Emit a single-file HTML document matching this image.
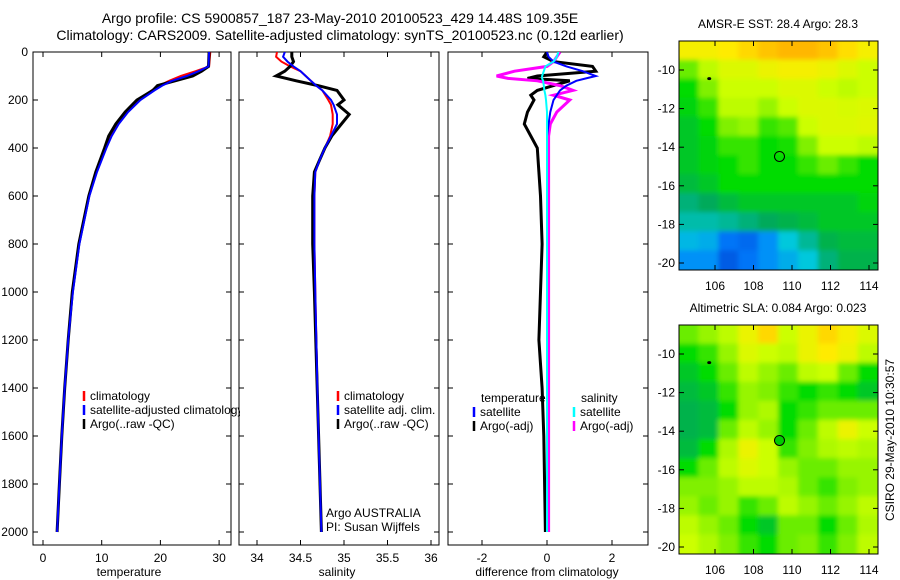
<!DOCTYPE html>
<html><head><meta charset="utf-8">
<style>
body{margin:0;background:#fff;}
svg{display:block;font-family:"Liberation Sans",sans-serif;}
</style></head>
<body>
<svg id="fig" width="900" height="580" xmlns="http://www.w3.org/2000/svg">
<rect width="900" height="580" fill="#fff"/>
<text x="340" y="23" font-size="14" text-anchor="middle">Argo profile: CS 5900857_187 23-May-2010 20100523_429 14.48S 109.35E</text>
<text x="340" y="40" font-size="14" text-anchor="middle">Climatology: CARS2009. Satellite-adjusted climatology: synTS_20100523.nc (0.12d earlier)</text>
<defs>
<clipPath id="c1"><rect x="33" y="52" width="198" height="493"/></clipPath>
<clipPath id="c2"><rect x="239" y="52" width="200" height="493"/></clipPath>
<clipPath id="c3"><rect x="448" y="52" width="200" height="493"/></clipPath>
<clipPath id="cm1"><rect x="679" y="41" width="199" height="229"/></clipPath>
<clipPath id="cm2"><rect x="679" y="325" width="199" height="229"/></clipPath>
<clipPath id="cleg"><rect x="33" y="380" width="207" height="60"/></clipPath>
<filter id="blur"><feGaussianBlur stdDeviation="2.5"/></filter>
</defs>
<g id="plots"></g>
<text transform="translate(894,440) rotate(-90)" font-size="12" text-anchor="middle">CSIRO 29-May-2010 10:30:57</text>
</svg>
<script>
// ---- data ----
const tDepth=[0,60,80,100,120,140,160,200,250,300,350,400,500,600,800,1000,1200,1400,1600,1800,2000];
const tClim=[28.5,28.3,26,23.5,21.5,19.8,18.5,16.3,14.3,12.7,11.5,10.6,9,7.8,6.1,5.0,4.3,3.7,3.2,2.8,2.4];
const tSat=[28.3,28.2,26.5,24.5,22,20.3,19,16.6,14.5,12.9,11.7,10.8,9.2,7.9,6.2,5.1,4.3,3.7,3.2,2.8,2.4];
const tArgo=[28.3,28.2,27,25.5,22.5,19.5,18.7,16,14,12.4,11.2,10.5,9,7.8,6.1,5.0,4.3,3.7,3.2,2.8,2.4];
const sDepth=[0,20,40,60,80,100,120,140,160,200,220,260,300,350,400,450,500,600,800,1000,1500,2000];
const sClim=[34.23,34.22,34.28,34.38,34.5,34.56,34.62,34.68,34.75,34.82,34.85,34.87,34.87,34.84,34.78,34.72,34.67,34.66,34.66,34.67,34.7,34.74];
const sSat=[34.32,34.3,34.35,34.42,34.5,34.56,34.62,34.68,34.75,34.85,34.88,34.92,34.92,34.85,34.78,34.72,34.67,34.66,34.66,34.67,34.7,34.74];
const sArgo=[34.40,34.40,34.42,34.38,34.32,34.22,34.45,34.70,34.92,35.00,34.93,35.06,34.97,34.86,34.78,34.72,34.66,34.64,34.64,34.66,34.70,34.74];
const dDepth=[0,20,40,60,80,100,110,120,140,160,180,200,250,300,350,400,500,600,800,1000,1200,1400,1600,2000];
const dSatT=[0,0.05,0.2,0.6,1.1,1.5,1.2,0.9,0.6,0.4,0.3,0.2,0.1,0.05,0,0,0,0,0,0,0,0,0,0];
const dArgoT=[0,-0.1,0.2,1.4,1.5,-0.3,-0.6,0.7,0.2,-0.3,-0.5,-0.4,-0.6,-0.7,-0.5,-0.3,-0.25,-0.2,-0.15,-0.2,-0.25,-0.15,-0.1,-0.05];
const dSatS=[0.35,0.3,0.2,-0.05,-0.1,-0.15,-0.15,-0.12,-0.1,-0.08,-0.05,-0.03,0,0,0,0,0,0,0,0,0,0,0,0];
const dArgoS=[0.4,0.3,0.2,0.0,-1.0,-1.55,-1.2,-0.3,0.4,0.8,0.2,0.7,0.3,0.1,0.05,0.05,0.05,0.05,0.05,0.05,0.05,0.05,0.05,0.05];
const depthTicks=[0,200,400,600,800,1000,1200,1400,1600,1800,2000];
const tTicks=[0,10,20,30];
const sTicks=[34,34.5,35,35.5,36];
const dTicks=[-2,0,2];
const lonTicks=[106,108,110,112,114];
const latTicks=[-10,-12,-14,-16,-18,-20];
const sstGrid=[
[0.8,0.8,0.82,0.85,0.88,0.9,0.9,0.88,0.84,0.8],
[0.6,0.7,0.75,0.75,0.78,0.8,0.8,0.78,0.75,0.72],
[0.5,0.62,0.72,0.72,0.72,0.75,0.75,0.72,0.7,0.72],
[0.48,0.55,0.7,0.7,0.65,0.72,0.75,0.75,0.74,0.75],
[0.45,0.5,0.62,0.65,0.55,0.58,0.72,0.75,0.75,0.76],
[0.45,0.48,0.55,0.55,0.5,0.52,0.62,0.72,0.72,0.7],
[0.45,0.48,0.5,0.55,0.5,0.5,0.55,0.6,0.55,0.5],
[0.42,0.45,0.5,0.5,0.5,0.5,0.5,0.5,0.5,0.5],
[0.35,0.38,0.42,0.45,0.45,0.45,0.45,0.45,0.45,0.48],
[0.3,0.3,0.32,0.35,0.38,0.4,0.42,0.45,0.45,0.45],
[0.22,0.2,0.1,0.08,0.15,0.25,0.32,0.4,0.42,0.42],
[0.15,0.15,0.05,0.1,0.15,0.2,0.25,0.35,0.4,0.4]];
const slaGrid=[
[0.6,0.65,0.7,0.78,0.85,0.72,0.78,0.85,0.8,0.75],
[0.5,0.55,0.65,0.75,0.72,0.7,0.78,0.82,0.78,0.7],
[0.45,0.5,0.6,0.7,0.65,0.6,0.7,0.72,0.6,0.5],
[0.42,0.45,0.55,0.65,0.62,0.55,0.5,0.55,0.5,0.45],
[0.4,0.42,0.5,0.65,0.68,0.5,0.55,0.6,0.6,0.6],
[0.4,0.42,0.6,0.7,0.65,0.5,0.6,0.7,0.78,0.72],
[0.42,0.5,0.68,0.78,0.72,0.55,0.62,0.68,0.7,0.68],
[0.5,0.6,0.7,0.75,0.72,0.65,0.6,0.6,0.65,0.65],
[0.62,0.62,0.65,0.7,0.7,0.68,0.6,0.55,0.62,0.65],
[0.65,0.6,0.65,0.55,0.6,0.7,0.65,0.6,0.65,0.7],
[0.7,0.65,0.6,0.5,0.45,0.6,0.6,0.5,0.6,0.68],
[0.72,0.68,0.62,0.55,0.5,0.6,0.62,0.55,0.62,0.7]];
const floatLon=109.35, floatLat=-14.48;

// ---- helpers ----
const NS="http://www.w3.org/2000/svg";
const root=document.getElementById('plots');
function mk(tag,attrs,parent){const e=document.createElementNS(NS,tag);for(const k in attrs)e.setAttribute(k,attrs[k]);(parent||root).appendChild(e);return e;}
const yD=d=>52+d*0.24;
const xT=v=>43+v*5.87;
const xS=v=>257+(v-34)*87;
const xDf=v=>547+v*32.5;

function line(xs,ds,xf,color,w,clip,name,dash){
  const pts=xs.map((v,i)=>xf(v).toFixed(1)+','+yD(ds[i]).toFixed(1)).join(' ');
  const p=mk('polyline',{points:pts,fill:'none',stroke:color,'stroke-width':w,'clip-path':'url(#'+clip+')'});
  if(dash)p.setAttribute('stroke-dasharray',dash);
  
  
}
function frame(x,y,w,h,name){
  const r=mk('rect',{x:x,y:y,width:w,height:h,fill:'none',stroke:'#000','stroke-width':1});
  
  
}
function txt(s,x,y,size,anchor,name){
  const t=mk('text',{x:x,y:y,'font-size':size,'text-anchor':anchor||'start'});
  t.textContent=s;
  
  
  return t;
}
function xticks(ticks,xf,top,bot,labelY,name){
  ticks.forEach(v=>{const x=xf(v);
    mk('line',{x1:x,y1:bot,x2:x,y2:bot-5,stroke:'#000'});
    mk('line',{x1:x,y1:top,x2:x,y2:top+5,stroke:'#000'});
    txt(String(v),x,labelY,12,'middle',name);});
}
function yticks(x1,x2){
  depthTicks.forEach(d=>{const y=yD(d);
    mk('line',{x1:x1,y1:y,x2:x1+5,y2:y,stroke:'#000'});
    mk('line',{x1:x2,y1:y,x2:x2-5,y2:y,stroke:'#000'});});
}
function legend(items,x,y0,clip){
  const g=mk('g',clip?{'clip-path':'url(#'+clip+')'}:{});
  items.forEach((it,i)=>{const y=y0+i*14;
    mk('line',{x1:x,y1:y-9,x2:x,y2:y+1,stroke:it[1],'stroke-width':2.5},g);
    const t=mk('text',{x:x+6,y:y,'font-size':12},g);t.textContent=it[0];
    
    });
}

// ---- panel 1: temperature ----
frame(33,52,198,493,'temperature-axes');
yticks(33,231);
depthTicks.forEach(d=>txt(String(d),28,yD(d)+4,12,'end','depth-tick-label'));
xticks(tTicks,xT,52,545,562,'temperature-tick-label');
txt('temperature',129,576,12,'middle','temperature-x-axis-title');
line(tClim,tDepth,xT,'#f00',2,'c1','temperature-climatology-line');
line(tArgo,tDepth,xT,'#000',3,'c1','temperature-argo-line');
line(tSat,tDepth,xT,'#00f',2,'c1','temperature-satellite-line');
legend([['climatology','#f00'],['satellite-adjusted climatology','#00f'],['Argo(..raw -QC)','#000']],84,400,'cleg');

// ---- panel 2: salinity ----
frame(239,52,200,493,'salinity-axes');
yticks(239,439);
xticks(sTicks,xS,52,545,562,'salinity-tick-label');
txt('salinity',337,576,12,'middle','salinity-x-axis-title');
line(sClim,sDepth,xS,'#f00',2,'c2','salinity-climatology-line');
line(sArgo,sDepth,xS,'#000',3,'c2','salinity-argo-line');
line(sSat,sDepth,xS,'#00f',2,'c2','salinity-satellite-line');
legend([['climatology','#f00'],['satellite adj. clim.','#00f'],['Argo(..raw -QC)','#000']],338,400);
txt('Argo AUSTRALIA',326,517,12,'start','argo-institution');
txt('PI: Susan Wijffels',326,531,12,'start','argo-pi');

// ---- panel 3: differences ----
frame(448,52,200,493,'difference-axes');
yticks(448,648);
xticks(dTicks,xDf,52,545,562,'difference-tick-label');
txt('difference from climatology',547,576,12,'middle','difference-x-axis-title');
line(dArgoT,dDepth,xDf,'#000',3,'c3','diff-temperature-argo-line');
line(dArgoS,dDepth,xDf,'#f0f',3,'c3','diff-salinity-argo-line');
line(dSatT,dDepth,xDf,'#00f',2,'c3','diff-temperature-satellite-line');
line(dSatS,dDepth,xDf,'#0ff',2,'c3','diff-salinity-satellite-line');
txt('temperature',481,402,12,'start','legend-temperature-header');
txt('salinity',581,402,12,'start','legend-salinity-header');
legend([['satellite','#00f'],['Argo(-adj)','#000']],474,416);
legend([['satellite','#0ff'],['Argo(-adj)','#f0f']],574,416);

// ---- maps ----
const stops=[[0,[0,64,208]],[0.12,[0,128,255]],[0.25,[0,200,220]],[0.38,[0,170,90]],[0.5,[0,220,0]],[0.62,[128,240,0]],[0.72,[204,255,0]],[0.82,[255,235,0]],[0.92,[255,170,0]],[1,[255,120,0]]];
function cmap(v){for(let i=1;i<stops.length;i++){if(v<=stops[i][0]){const a=stops[i-1],b=stops[i],t=(v-a[0])/(b[0]-a[0]);
  const c=a[1].map((x,k)=>Math.round(x+(b[1][k]-x)*t));return 'rgb('+c.join(',')+')';}}return 'rgb(255,120,0)';}
const lonX=lon=>715+(lon-106)*19.25;
function drawMap(grid,top,title,clip,name,circleFill){
  const latY=lat=>top+29+(-10-lat)*19.3;
  txt(title,778,top-13,12,'middle',name+'-title');
  const g=mk('g',{'clip-path':'url(#'+clip+')'});
  const g2=mk('g',{filter:'url(#blur)'},g);
  const rows=grid.length,cols=grid[0].length,cw=199/cols,ch=229/rows;
  grid.forEach((row,r)=>row.forEach((v,c)=>{
    const rc=mk('rect',{x:679+c*cw-(c==0?8:0.5),y:top+r*ch-(r==0?8:0.5),width:cw+1+(c==0||c==cols-1?8:0),height:ch+1+(r==0||r==rows-1?8:0),fill:cmap(v)},g2);
    
    
  }));
  mk('ellipse',{cx:lonX(105.7),cy:latY(-10.45),rx:2,ry:1.5,fill:'#000'},g);
  const ci=mk('circle',{cx:lonX(floatLon),cy:latY(floatLat),r:5,fill:circleFill,stroke:'#000','stroke-width':1},g);
  
  
  frame(679,top,199,229,name+'-axes');
  lonTicks.forEach(l=>{const x=lonX(l);
    mk('line',{x1:x,y1:top+229,x2:x,y2:top+224,stroke:'#000'});
    mk('line',{x1:x,y1:top,x2:x,y2:top+5,stroke:'#000'});
    txt(String(l),x,top+249,12,'middle',name+'-lon-label');});
  latTicks.forEach(l=>{const y=latY(l);
    mk('line',{x1:679,y1:y,x2:684,y2:y,stroke:'#000'});
    mk('line',{x1:878,y1:y,x2:873,y2:y,stroke:'#000'});
    txt(String(l),675,y+4,12,'end',name+'-lat-label');});
}
drawMap(sstGrid,41,'AMSR-E SST: 28.4  Argo: 28.3','cm1','sst-map','none');
drawMap(slaGrid,325,'Altimetric SLA: 0.084  Argo: 0.023','cm2','sla-map','#00cc00');
</script>
</body></html>
